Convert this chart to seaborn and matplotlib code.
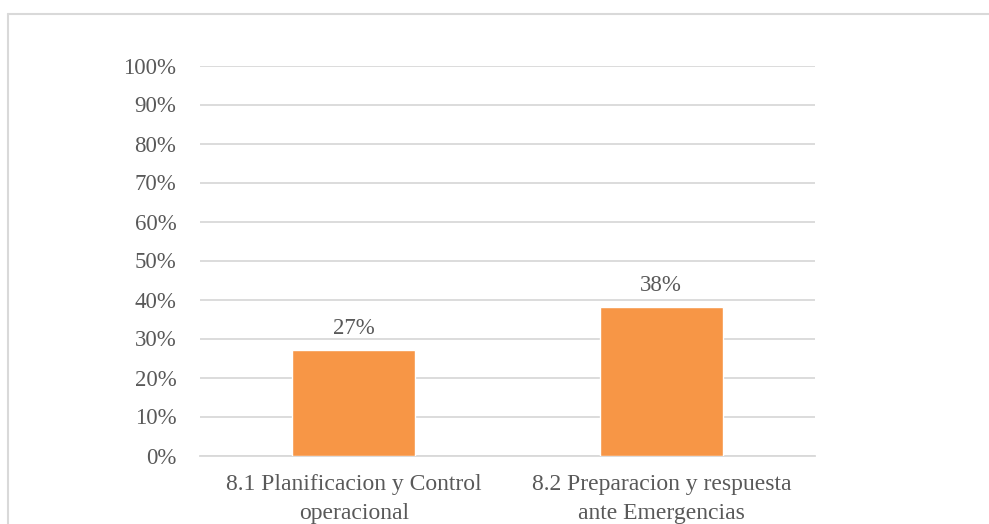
import matplotlib
matplotlib.use("Agg")
import matplotlib.pyplot as plt
from matplotlib.lines import Line2D
from matplotlib.ticker import PercentFormatter
import seaborn as sns
import pandas as pd

# Data
categories = ["8.1 Planificacion y Control\noperacional",
              "8.2 Preparacion y respuesta\nante Emergencias"]
values = [0.27, 0.38]
value_labels = ["27%", "38%"]

sns.set_theme(style="white")
plt.rcParams["font.family"] = ["Liberation Serif", "DejaVu Serif"]

TEXT = "#595959"
GRID = "#D9D9D9"
BAR = "#F79646"

df = pd.DataFrame({"categoria": categories, "valor": values})

fig = plt.figure(figsize=(9.89, 5.24), dpi=100)
ax = fig.add_axes([200 / 989, 1 - 455.5 / 524, 615 / 989, 390 / 524])

sns.barplot(data=df, x="categoria", y="valor", color=BAR, saturation=1,
            width=0.4, ax=ax, zorder=3)

ax.set_ylim(0, 1)
ax.set_yticks([i / 10 for i in range(11)])
ax.yaxis.set_major_formatter(PercentFormatter(1.0, decimals=0))
ax.yaxis.grid(True, color=GRID, linewidth=1.3, zorder=0)
ax.set_axisbelow(True)
for side in ["left", "right", "top"]:
    ax.spines[side].set_visible(False)
ax.spines["bottom"].set_color(GRID)
ax.spines["bottom"].set_linewidth(1.3)
ax.tick_params(axis="both", length=0, colors=TEXT)
ax.tick_params(axis="y", labelsize=16.5, pad=17)
ax.tick_params(axis="x", labelsize=17, pad=13)
for lbl in ax.get_xticklabels():
    lbl.set_linespacing(1.5)
ax.set_xlabel("")
ax.set_ylabel("")

# Value labels above each bar
for i, (v, txt) in enumerate(zip(values, value_labels)):
    ax.annotate(txt, (i, v), xytext=(0, 8), textcoords="offset points",
                ha="center", va="bottom", fontsize=16.5, color=TEXT)

# Chart frame
fig.add_artist(Line2D([7.5 / 989, 7.5 / 989], [0, 1 - 13.5 / 524],
                      transform=fig.transFigure, color=GRID, linewidth=1.5))
fig.add_artist(Line2D([7.5 / 989, 1], [1 - 13.5 / 524, 1 - 13.5 / 524],
                      transform=fig.transFigure, color=GRID, linewidth=1.5))

fig.savefig("out.png", dpi=100, facecolor="white")
